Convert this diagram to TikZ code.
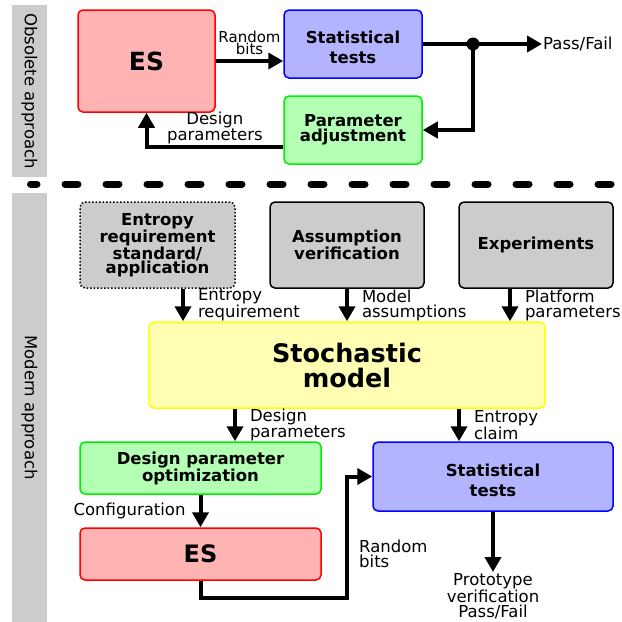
\documentclass[tikz,border=0pt]{standalone}
\usepackage{fontspec}
\setmainfont{DejaVu Sans}
\usetikzlibrary{arrows.meta,positioning}
\definecolor{esfill}{HTML}{FFB3B3}
\definecolor{esline}{HTML}{FF0000}
\definecolor{testfill}{HTML}{B3B3FF}
\definecolor{testline}{HTML}{0000FF}
\definecolor{parfill}{HTML}{B3FFB3}
\definecolor{parline}{HTML}{00EE00}
\definecolor{modelfill}{HTML}{FFFFB3}
\definecolor{modelline}{HTML}{FFFF00}
\definecolor{boxgray}{HTML}{CCCCCC}

\begin{document}
\begin{tikzpicture}[x=1pt,y=-1pt,
  box/.style={draw,line width=1.5pt,rounded corners=5pt,align=center,font=\fontsize{16.5}{14.5}\selectfont\bfseries},
  lbl/.style={inner sep=1pt,font=\fontsize{16.5}{15}\selectfont},
  tag/.style={lbl,fill=boxgray,rotate=-90,minimum height=35pt},
  arr/.style={line width=4pt,-{Triangle[length=15pt,width=16pt]}}]
\useasboundingbox (0,0) rectangle (622,622);
% side tags and separator
\node[tag,minimum width=172pt] (oldtag) at (29.5,91) {Obsolete approach};
\node[tag,minimum width=429pt] (newtag) at (29.5,407.5) {Modern approach};
\draw[line width=7pt,line cap=round,dash pattern=on 13pt off 28pt,dash phase=6.5pt] (30.5,184) -- (622,184);
% obsolete approach
\node[box,fill=esfill,draw=esline,minimum width=137pt,minimum height=102pt,font=\fontsize{25}{25}\selectfont\bfseries] (esA) at (146.5,61) {ES};
\node[box,fill=testfill,draw=testline,minimum width=138pt,minimum height=68pt] (statA) at (353,44) {\rule{0pt}{20pt}Statistical\\[5.5pt]tests};
\node[box,fill=parfill,draw=parline,minimum width=138pt,minimum height=68pt] (parA) at (353,130) {Parameter\\adjustment};
\node[lbl,anchor=west] (pfA) at (542,44) {Pass/Fail};
\coordinate (split) at (473,44);
\draw[arr] (esA.east) -- (esA.east -| statA.west) node[midway,above,yshift=3pt,lbl,align=center,font=\fontsize{15}{12.5}\selectfont] {Random\\bits};
\draw[arr] (statA) -- (pfA);
\fill (split) circle (6.5);
\draw[arr] (split) |- (parA.east);
\draw[arr] ([yshift=-17pt]parA.west) -| (esA.south) node[pos=0.25,above,lbl,align=center] {Design\\parameters};
% modern approach
\node[box,fill=boxgray,draw=black,dotted,minimum width=155pt,minimum height=86pt] (entreq) at (157.5,245) {Entropy\\requirement\\standard/\\application};
\node[box,fill=boxgray,draw=black,minimum width=154pt,minimum height=86pt] (assum) at (347,245) {Assumption\\verification};
\node[box,fill=boxgray,draw=black,minimum width=154pt,minimum height=86pt] (exper) at (536,245) {Experiments};
\node[box,fill=modelfill,draw=modelline,minimum width=396pt,minimum height=86pt,font=\fontsize{25.5}{25}\selectfont\bfseries] (model) at (347,365) {Stochastic\\model};
\node[box,fill=parfill,draw=parline,minimum width=241pt,minimum height=52pt] (desopt) at (200.5,468) {Design parameter\\optimization};
\node[box,fill=esfill,draw=esline,minimum width=241pt,minimum height=52pt,font=\fontsize{24}{24}\selectfont\bfseries] (esB) at (200.5,554) {ES};
\node[box,fill=testfill,draw=testline,minimum width=240pt,minimum height=69pt] (statB) at (493,476.5) {\rule{0pt}{20pt}Statistical\\[5.5pt]tests};
\node[lbl,align=center,anchor=north] (verdict) at (493,572) {Prototype\\verification\\Pass/Fail};
\draw[arr] ([xshift=25.5pt]entreq.south) -- ([xshift=25.5pt]entreq.south |- model.north) node[midway,right=12pt,lbl,align=left] {Entropy\\requirement};
\draw[arr] (assum) -- (model) node[midway,right=12pt,lbl,align=left] {Model\\assumptions};
\draw[arr] ([xshift=-26pt]exper.south) -- ([xshift=-26pt]exper.south |- model.north) node[midway,right=12pt,lbl,align=left] {Platform\\parameters};
\draw[arr] ([xshift=34.5pt]desopt.north |- model.south) -- ([xshift=34.5pt]desopt.north) node[midway,right=12pt,lbl,align=left] {Design\\parameters};
\draw[arr] ([xshift=-34pt]statB.north |- model.south) -- ([xshift=-34pt]statB.north) node[midway,right=12pt,lbl,align=left] {Entropy\\claim};
\draw[arr] (desopt) -- (esB) node[midway,left=12pt,lbl] {Configuration};
\coordinate (bend) at (347,598);
\draw[arr] (esB.south) |- (bend) |- (statB.west);
\node[lbl,anchor=west,align=left] (rbB) at (358,554) {Random\\bits};
\draw[arr] (statB) -- (verdict);
\end{tikzpicture}
\end{document}
